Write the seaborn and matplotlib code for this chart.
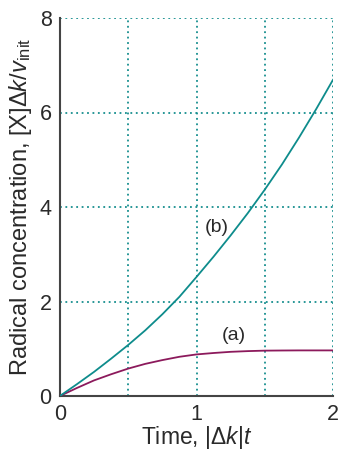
import matplotlib
matplotlib.use("Agg")
import matplotlib.pyplot as plt
import seaborn as sns
import pandas as pd

# data
t_a = [0, 0.125, 0.25, 0.375, 0.5, 0.625, 0.75, 0.875, 1.0, 1.125, 1.25, 1.375, 1.5, 1.625, 1.75, 1.875, 2.0]
conc_a = [0, 0.17, 0.33, 0.46, 0.58, 0.68, 0.76, 0.83, 0.88, 0.91, 0.935, 0.95, 0.96, 0.963, 0.965, 0.965, 0.965]
t_b = [0, 0.125, 0.25, 0.375, 0.5, 0.625, 0.75, 0.875, 1.0, 1.125, 1.25, 1.375, 1.5, 1.625, 1.75, 1.875, 2.0]
conc_b = [0, 0.25, 0.51, 0.79, 1.08, 1.39, 1.73, 2.10, 2.52, 2.95, 3.40, 3.87, 4.37, 4.90, 5.47, 6.07, 6.70]
x_ticks = [0, 1, 2]
y_ticks = [0, 2, 4, 6, 8]
x_grid = [0.5, 1.0, 1.5, 2.0]
y_grid = [2, 4, 6, 8]

sns.set_style("white")
plt.rcParams["font.family"] = ["Liberation Sans", "DejaVu Sans"]
plt.rcParams["mathtext.fontset"] = "custom"
plt.rcParams["mathtext.rm"] = "Liberation Sans"
plt.rcParams["mathtext.it"] = "Liberation Sans:italic"

teal = "#0E8C8C"
purple = "#8C1A5C"
grid_c = "#178F8F"
txt = "#2a2a2a"

df = pd.concat([
    pd.DataFrame({"t": t_a, "c": conc_a, "curve": "a"}),
    pd.DataFrame({"t": t_b, "c": conc_b, "curve": "b"}),
])

fig = plt.figure(figsize=(3.4, 4.5), dpi=100)
ax = fig.add_axes([0.176, 0.12, 0.804, 0.84])

for xv in x_grid:
    ax.axvline(xv, color=grid_c, lw=1.3, ls=(0, (1, 2)), zorder=1)
for yv in y_grid:
    ax.axhline(yv, color=grid_c, lw=1.3, ls=(0, (1, 2)), zorder=1)

sns.lineplot(data=df, x="t", y="c", hue="curve", palette={"a": purple, "b": teal},
             ax=ax, legend=False, lw=1.3, zorder=3)

ax.set_xlim(0, 2)
ax.set_ylim(0, 8)
ax.set_xticks(x_ticks)
ax.set_yticks(y_ticks)
ax.tick_params(axis="both", length=0, labelsize=15.5, colors=txt)
ax.tick_params(axis="y", pad=6)
ax.tick_params(axis="x", pad=6)
for s in ["top", "right"]:
    ax.spines[s].set_visible(False)
for s in ["left", "bottom"]:
    ax.spines[s].set_color("#444444")
    ax.spines[s].set_linewidth(1.5)

ax.set_xlabel(r"Time, $|\Delta k|t$", fontsize=16.5, color=txt, labelpad=-1)
ax.set_ylabel(r"Radical concentration, [X]$\Delta k/v_{\mathrm{init}}$", fontsize=17,
              color=txt, labelpad=4)

ax.text(1.15, 3.57, "(b)", fontsize=14, ha="center", va="center", color=txt)
ax.text(1.27, 1.29, "(a)", fontsize=14, ha="center", va="center", color=txt)

fig.savefig("out.png", dpi=100)
